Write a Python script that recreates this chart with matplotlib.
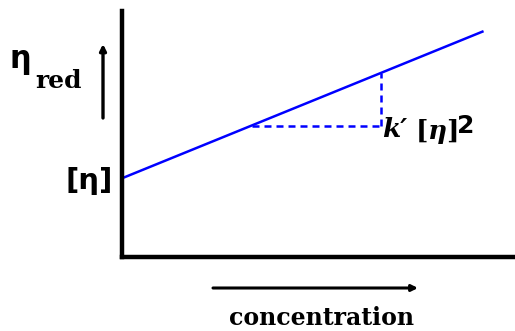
import matplotlib
matplotlib.use("Agg")
import matplotlib.pyplot as plt
import numpy as np

plt.rcParams["mathtext.fontset"] = "custom"
plt.rcParams["mathtext.rm"] = "DejaVu Serif:bold"
plt.rcParams["mathtext.bf"] = "DejaVu Serif:bold"
plt.rcParams["mathtext.it"] = "DejaVu Serif:italic:bold"

# Reduced viscosity vs concentration (Huggins plot, schematic)
conc = np.array([0.0, 9.2])
intercept = 3.2          # [eta]
slope = 0.65             # k' [eta]^2
eta_red = intercept + slope * conc

# Slope triangle corners along concentration
tri_c = np.array([3.3, 6.6])

W, H = 515, 331
fig = plt.figure(figsize=(W / 100, H / 100), dpi=100)

# Overlay axes in pixel units for annotations
ov = fig.add_axes([0, 0, 1, 1])
ov.set_xlim(0, W)
ov.set_ylim(H, 0)
ov.axis("off")

# Main plot axes
ax = fig.add_axes([122 / W, 1 - 257 / H, (515 - 122) / W, (257 - 11) / H])
ax.set_xlim(0, 10)
ax.set_ylim(0, 10)
for s in ["top", "right"]:
    ax.spines[s].set_visible(False)
for s in ["left", "bottom"]:
    ax.spines[s].set_linewidth(3.2)
    ax.spines[s].set_color("black")
ax.set_xticks([])
ax.set_yticks([])
ax.patch.set_alpha(0)

blue = "#0000ff"
ax.plot(conc, eta_red, color=blue, lw=1.8, solid_capstyle="butt")
tri_y = intercept + slope * tri_c
dash = (0, (2.8, 2.0))
ax.plot([tri_c[0], tri_c[1]], [tri_y[0], tri_y[0]], color=blue, lw=1.8, ls=dash)
ax.plot([tri_c[1], tri_c[1]], [tri_y[0], tri_y[1]], color=blue, lw=1.8, ls=dash)

serif = "DejaVu Serif"
sans = "DejaVu Sans"

# Direction arrows
ov.annotate("", xy=(103, 44), xytext=(103, 118),
            arrowprops=dict(arrowstyle="-|>", lw=2.4, color="black",
                            mutation_scale=9, shrinkA=0, shrinkB=0))
ov.annotate("", xy=(418, 288), xytext=(213, 288),
            arrowprops=dict(arrowstyle="-|>", lw=2.2, color="black",
                            mutation_scale=9, shrinkA=0, shrinkB=0))

# Axis labels
ov.text(10, 68, "η", fontsize=22, fontweight="bold", family=sans,
        ha="left", va="baseline")
ov.text(35, 88, "red", fontsize=18, fontweight="bold", family=serif,
        ha="left", va="baseline")
ov.text(113, 189, "[η]", fontsize=21, fontweight="bold", family=sans,
        ha="right", va="baseline")

# Slope label
ov.text(382, 137, "k′", fontsize=19, fontweight="bold", fontstyle="italic",
        family=serif, ha="left", va="baseline")
ov.text(415, 139, r"$[\eta]$", fontsize=19, ha="left", va="baseline")
ov.text(457, 133, "2", fontsize=18, fontweight="bold", family=sans,
        ha="left", va="baseline")

ov.text(322, 325, "concentration", fontsize=17, fontweight="bold",
        family=serif, ha="center", va="baseline")

fig.savefig("out.png", dpi=100, facecolor="white")
